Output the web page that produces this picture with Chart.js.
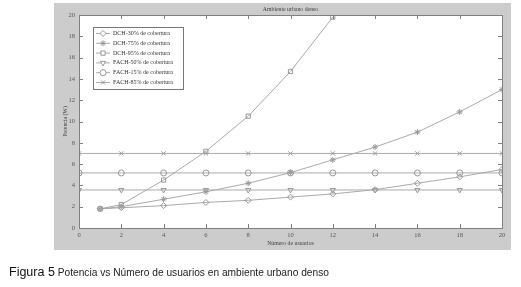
<!DOCTYPE html>
<html lang="es">
<head>
<meta charset="UTF-8">
<title>Potencia vs Número de usuarios</title>
<script src="https://cdn.jsdelivr.net/npm/chart.js"></script>
<style>
  body { margin: 0; background: #fff; }
  #wrap { position: relative; width: 521px; height: 287px; }
  #caption { position: absolute; left: 9px; top: 265px; font-family: "Liberation Sans", Arial, sans-serif; font-size: 10.2px; color: #222; white-space: nowrap; }
  #caption b { font-size: 12.5px; font-weight: normal; color: #111; }
</style>
</head>
<body>
<div id="wrap">
  <canvas id="grafico" width="521" height="287"></canvas>
  <div id="caption"><b>Figura 5</b> Potencia vs Número de usuarios en ambiente urbano denso</div>
</div>

<script>
// datos
const usuariosDCH = [1, 2, 4, 6, 8, 10, 12, 14, 16, 18, 20];
const usuariosDCH95 = [1, 2, 4, 6, 8, 10, 12];
const usuariosFACH = [0, 2, 4, 6, 8, 10, 12, 14, 16, 18, 20];

const dch30 = [1.8, 1.9, 2.1, 2.4, 2.6, 2.9, 3.2, 3.6, 4.2, 4.8, 5.5];
const dch75 = [1.8, 2.0, 2.7, 3.4, 4.2, 5.2, 6.4, 7.6, 9.0, 10.9, 13.0];
const dch95 = [1.8, 2.2, 4.5, 7.2, 10.5, 14.7, 19.8];
const fach50 = [3.57, 3.57, 3.57, 3.57, 3.57, 3.57, 3.57, 3.57, 3.57, 3.57, 3.57];
const fach15 = [5.17, 5.17, 5.17, 5.17, 5.17, 5.17, 5.17, 5.17, 5.17, 5.17, 5.17];
const fach85 = [7.0, 7.0, 7.0, 7.0, 7.0, 7.0, 7.0, 7.0, 7.0, 7.0, 7.0];

const ticksX = [0, 2, 4, 6, 8, 10, 12, 14, 16, 18, 20];
const ticksY = [0, 2, 4, 6, 8, 10, 12, 14, 16, 18, 20];

const fuente = '"Liberation Serif", "DejaVu Serif", serif';
const gris = '#aaaaaa';

function puntos(xs, ys) {
    return xs.map((x, i) => ({ x: x, y: ys[i] }));
}

function serie(label, xs, ys, estilo, rot) {
    return {
        label: label,
        data: puntos(xs, ys),
        borderColor: gris,
        borderWidth: 1,
        pointStyle: estilo,
        rotation: rot || 0,
        pointRadius: 3,
        pointBorderColor: '#999999',
        pointBackgroundColor: 'rgba(0,0,0,0)',
        pointBorderWidth: 1,
        fill: false,
        tension: 0
    };
}

// fondo gris, marcas internas, titulo y leyenda estilo matlab
const estiloMatlab = {
    id: 'estiloMatlab',
    beforeDraw(chart) {
        const ctx = chart.ctx;
        const a = chart.chartArea;
        ctx.save();
        ctx.fillStyle = '#cccccc';
        ctx.fillRect(54, 3, 457, 247);
        ctx.fillStyle = '#ffffff';
        ctx.fillRect(a.left, a.top, a.right - a.left, a.bottom - a.top);
        ctx.restore();
    },
    afterDraw(chart) {
        const ctx = chart.ctx;
        const a = chart.chartArea;
        const sx = chart.scales.x;
        const sy = chart.scales.y;
        ctx.save();
        ctx.strokeStyle = '#808080';
        ctx.lineWidth = 1;
        ctx.beginPath();
        ticksX.forEach(v => {
            const px = Math.round(sx.getPixelForValue(v)) + 0.5;
            ctx.moveTo(px, a.bottom); ctx.lineTo(px, a.bottom - 4);
            ctx.moveTo(px, a.top); ctx.lineTo(px, a.top + 4);
        });
        ticksY.forEach(v => {
            const py = Math.round(sy.getPixelForValue(v)) + 0.5;
            ctx.moveTo(a.left, py); ctx.lineTo(a.left + 4, py);
            ctx.moveTo(a.right, py); ctx.lineTo(a.right - 4, py);
        });
        ctx.stroke();
        ctx.strokeRect(Math.round(a.left) + 0.5, Math.round(a.top) + 0.5, Math.round(a.right - a.left), Math.round(a.bottom - a.top));

        // titulo
        ctx.fillStyle = '#444';
        ctx.font = '5.8px ' + fuente;
        ctx.textAlign = 'center';
        ctx.textBaseline = 'middle';
        ctx.fillText('Ambiente urbano denso', (a.left + a.right) / 2, 9);

        // leyenda
        const lx = 93, ly = 27, lw = 90, lh = 62;
        ctx.fillStyle = '#ffffff';
        ctx.fillRect(lx, ly, lw, lh);
        ctx.strokeStyle = '#777';
        ctx.strokeRect(lx + 0.5, ly + 0.5, lw, lh);
        chart.data.datasets.forEach((ds, i) => {
            const y = ly + 6.5 + i * 9.8;
            ctx.strokeStyle = gris;
            ctx.beginPath();
            ctx.moveTo(lx + 3, y); ctx.lineTo(lx + 17, y);
            ctx.stroke();
            ctx.strokeStyle = '#999999';
            ctx.fillStyle = '#ffffff';
            Chart.helpers.drawPoint(ctx, { pointStyle: ds.pointStyle, rotation: ds.rotation, radius: 3, borderWidth: 1 }, lx + 10, y);
            ctx.fillStyle = '#333';
            ctx.font = '6px ' + fuente;
            ctx.textAlign = 'left';
            ctx.fillText(ds.label, lx + 20, y);
        });
        ctx.restore();
    }
};

new Chart(document.getElementById('grafico'), {
    type: 'line',
    data: {
        datasets: [
            serie('DCH-30% de cobertura', usuariosDCH, dch30, 'rectRot'),
            serie('DCH-75% de cobertura', usuariosDCH, dch75, 'star'),
            serie('DCH-95% de cobertura', usuariosDCH95, dch95, 'rect'),
            serie('FACH-50% de cobertura', usuariosFACH, fach50, 'triangle', 180),
            serie('FACH-15% de cobertura', usuariosFACH, fach15, 'circle'),
            serie('FACH-85% de cobertura', usuariosFACH, fach85, 'crossRot')
        ]
    },
    options: {
        responsive: false,
        animation: false,
        layout: { padding: { left: 62, right: 19, top: 15, bottom: 30 } },
        plugins: { legend: { display: false }, title: { display: false }, tooltip: { enabled: false } },
        scales: {
            x: {
                type: 'linear',
                min: 0, max: 20,
                grid: { display: false, drawTicks: false },
                border: { display: false },
                afterBuildTicks: s => { s.ticks = ticksX.map(v => ({ value: v })); },
                afterFit: s => { s.height = 29; },
                ticks: { color: '#555', font: { family: fuente, size: 6.5 }, padding: 3, maxRotation: 0 },
                title: { display: true, text: 'Número de usuarios', color: '#444', font: { family: fuente, size: 5.8 }, padding: { top: 0, bottom: 10 } }
            },
            y: {
                min: 0, max: 20,
                grid: { display: false, drawTicks: false },
                border: { display: false },
                afterBuildTicks: s => { s.ticks = ticksY.map(v => ({ value: v })); },
                afterFit: s => { s.width = 17; },
                ticks: { color: '#555', font: { family: fuente, size: 6.5 }, padding: 4 },
                title: { display: true, text: 'Potencia (W)', color: '#444', font: { family: fuente, size: 5.8 }, padding: { top: 0, bottom: 0 } }
            }
        }
    },
    plugins: [estiloMatlab]
});
</script>
</body>
</html>
